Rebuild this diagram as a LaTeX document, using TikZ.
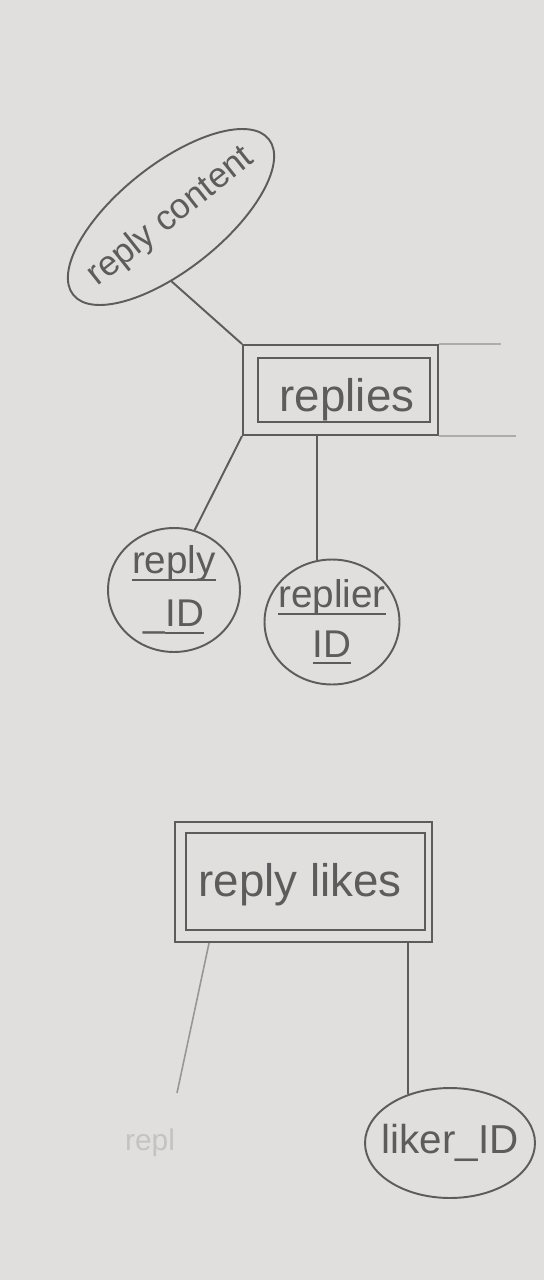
\documentclass[tikz,border=0pt]{standalone}
\usepackage{fontspec}
\setmainfont{Liberation Sans}
\usetikzlibrary{shapes.geometric}
\definecolor{paper}{RGB}{224,223,221}
\definecolor{ink}{RGB}{92,92,92}
\definecolor{faintink}{RGB}{150,150,150}
\definecolor{ghostink}{RGB}{195,195,195}
\newcommand{\zw}[1]{\makebox[0pt]{#1}}
\newcommand{\thul}[1]{\setbox0=\hbox{#1}\rlap{\raisebox{-4pt}{\rule{\wd0}{1.1pt}}}\box0}
\begin{document}
\begin{tikzpicture}[x=0.02cm,y=-0.02cm,
  inkline/.style={draw=ink, line width=1.1pt},
  thinline/.style={draw=faintink!70!paper, line width=0.8pt},
  attr/.style={ellipse, draw=ink, line width=1.1pt, text=ink, inner xsep=0pt, inner ysep=-4pt, align=center, font=\fontsize{22}{26}\selectfont},
  entity/.style={rectangle, draw=ink, line width=1.1pt, inner sep=0pt},
  entlabel/.style={text=ink, inner sep=1pt, font=\fontsize{26}{28}\selectfont}
]
\fill[paper] (0,0) rectangle (544,1280);
\useasboundingbox (0,0) rectangle (544,1280);

% reply content attribute
\node[attr, rotate=38.5, minimum width=5.0cm, minimum height=2.1cm, font=\fontsize{20}{24}\selectfont] (content) at (171,217) {\zw{reply content}};

% replies entity (double rectangle)
\node[entity, minimum width=3.9cm, minimum height=1.8cm] (replies) at (340.5,390) {};
\draw[inkline] (258,358) rectangle (430,422);
\node[entlabel] (repliestext) at (347,400) {replies};
\draw[thinline] (replies.north east) -- ++(62,0);
\draw[thinline] (replies.south east) -- ++(77,0);

% reply_ID and replier_ID attributes
\node[attr, minimum width=2.64cm, minimum height=2.48cm] (rid) at (174,590)
  {\zw{\thul{reply}}\\[4pt]\zw{\_\thul{ID}}};
\node[attr, minimum width=2.7cm, minimum height=2.5cm] (rpl) at (332,622)
  {\zw{\thul{replier}}\\[2pt]\zw{\thul{ID}}};

% reply likes entity (double rectangle)
\node[entity, minimum width=5.14cm, minimum height=2.4cm] (likes) at (303.5,882) {};
\draw[inkline] (186,833) rectangle (425,930);
\node[entlabel] (likestext) at (300,885) {reply likes};

% liker_ID attribute
\node[attr, minimum width=3.4cm, minimum height=2.2cm, font=\fontsize{23}{26}\selectfont] (liker) at (450,1143) {\zw{liker\_ID}};

% faint, erased text
\coordinate (loose) at (177,1093);
\node[text=ghostink, font=\fontsize{17}{19}\selectfont] (ghost) at (150,1143) {repl};

% connectors
\draw[inkline] (content.-128) -- (replies.north west);
\draw[inkline] (replies.south west) -- (rid.71);
\draw[inkline] (replies.south -| rpl.104) -- (rpl.104);
\draw[draw=faintink, line width=0.9pt] ([xshift=0.7cm]likes.south west) -- (loose);
\draw[inkline] (likes.south -| liker.131) -- (liker.131);
\end{tikzpicture}
\end{document}
